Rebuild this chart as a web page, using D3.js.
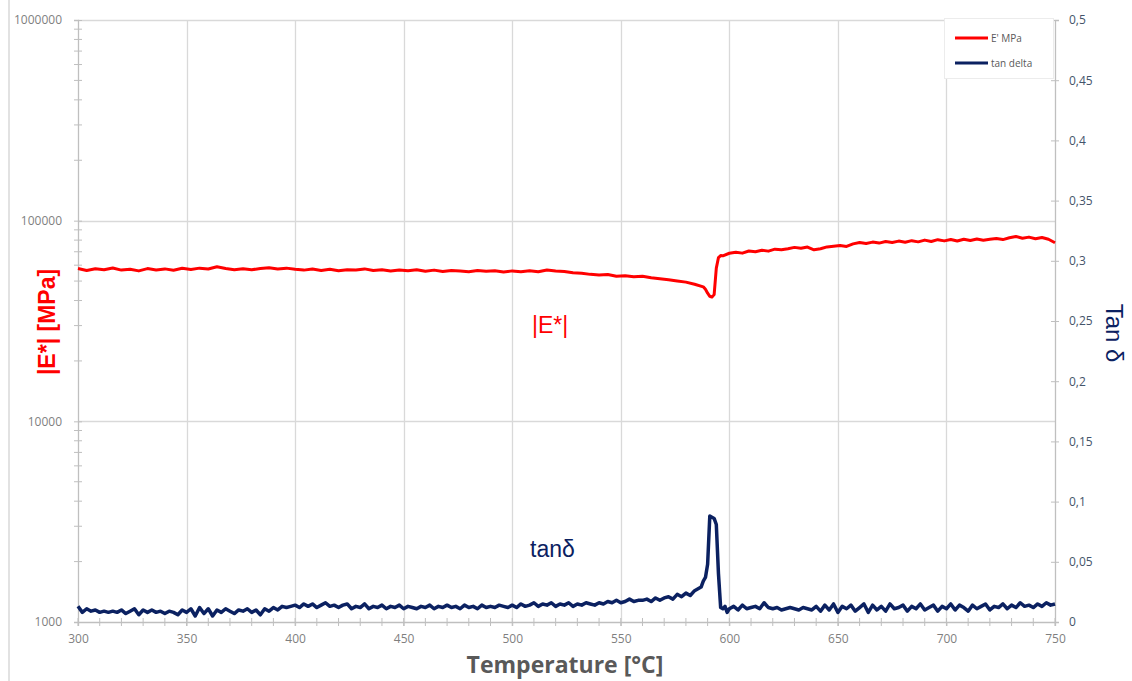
<!DOCTYPE html>
<html><head><meta charset="utf-8">
<script src="https://cdn.jsdelivr.net/npm/d3@7"></script>
<style>body{margin:0;background:#fff}svg{display:block}</style>
</head><body>
<script>
// ---- data ----
const xTicks = [300,350,400,450,500,550,600,650,700,750];
const yLeftTicks = [1000,10000,100000,1000000];
const yRightTicks = [0,0.05,0.1,0.15,0.2,0.25,0.3,0.35,0.4,0.45,0.5];
const yRightLabels = ["0","0,05","0,1","0,15","0,2","0,25","0,3","0,35","0,4","0,45","0,5"];

const tempE = [300,304,308,312,316,320,324,328,332,336,340,344,348,
352,356,360,364,368,372,376,380,384,388,392,396,400,
404,408,412,416,420,424,428,432,436,440,444,448,452,
456,460,464,468,472,476,480,484,488,492,496,500,504,
508,512,516,520,524,528,532,536,540,544,548,552,556,
560,564,568,572,576,580,584,588,
589,590,591,592,593,594,595,596,597,
600,603,606,609,612,615,618,621,624,627,
630,633,636,639,642,645,648,651,654,657,
660,663,666,669,672,675,678,681,684,687,
690,693,696,699,702,705,708,711,714,717,
720,723,726,729,732,735,738,741,744,747,750];
const modulusE = [57800,56400,57600,56900,58100,56700,57300,56200,57700,56800,57500,56600,57900,
57100,58000,57400,58900,57800,57000,57600,56900,57800,58300,57400,58000,57200,
56700,57400,56500,57200,56300,57000,56800,57500,56400,56900,56100,56800,56300,
56900,56000,56700,55800,56500,56100,55700,56400,55900,56300,55500,56200,55700,
56300,55600,56800,56200,55800,55000,54700,54000,53600,53900,52800,53200,52500,
52900,51900,51300,50800,50100,49400,48200,46800,
45500,43500,42000,41600,42800,58000,65500,67000,66800,
68800,69600,68900,70600,70000,71200,70500,72100,71600,72500,
73600,72800,73900,71600,72400,74000,74600,75200,74400,76600,
77800,76900,78200,77300,78700,77800,79100,78000,79500,78400,
80000,78700,80400,79300,80600,79200,80800,79600,81000,79900,
80800,81400,80500,82200,83400,81800,82800,81300,82500,80800,77600];

const tempTan = [300,302,304,306,308,310,312,314,316,318,320,322,324,326,328,330,332,334,336,338,
340,342,344,346,348,350,352,354,356,358,360,362,364,366,368,370,372,374,376,378,
380,382,384,386,388,390,392,394,396,398,400,402,404,406,408,410,412,414,416,418,
420,422,424,426,428,430,432,434,436,438,440,442,444,446,448,450,452,454,456,458,
460,462,464,466,468,470,472,474,476,478,480,482,484,486,488,490,492,494,496,498,
500,502,504,506,508,510,512,514,516,518,520,522,524,526,528,530,532,534,536,538,
540,542,544,546,548,550,552,554,556,558,560,562,564,566,568,570,572,574,576,578,
580,582,584,586,587,588,589,590,591,592,593,594,595,596,597,598,599,
600,602,604,606,608,610,612,614,616,618,620,622,624,626,628,630,632,634,636,638,
640,642,644,646,648,650,652,654,656,658,660,662,664,666,668,670,672,674,676,678,
680,682,684,686,688,690,692,694,696,698,700,702,704,706,708,710,712,714,716,718,
720,722,724,726,728,730,732,734,736,738,740,742,744,746,748,750];
const tanDelta = [0.013,0.008,0.011,0.009,0.010,0.008,0.009,0.008,0.009,0.008,
0.010,0.007,0.009,0.011,0.006,0.010,0.008,0.010,0.008,0.009,
0.007,0.009,0.008,0.006,0.010,0.008,0.011,0.005,0.012,0.007,
0.011,0.005,0.010,0.008,0.011,0.009,0.007,0.010,0.009,0.011,
0.008,0.010,0.006,0.011,0.009,0.012,0.010,0.013,0.012,0.013,
0.014,0.012,0.015,0.013,0.015,0.012,0.014,0.016,0.013,0.014,
0.012,0.014,0.015,0.011,0.013,0.012,0.015,0.011,0.013,0.012,
0.014,0.011,0.013,0.012,0.014,0.011,0.013,0.012,0.011,0.013,
0.012,0.014,0.011,0.013,0.012,0.014,0.012,0.013,0.011,0.014,
0.012,0.013,0.011,0.014,0.012,0.013,0.012,0.014,0.013,0.012,
0.014,0.012,0.015,0.013,0.014,0.016,0.013,0.015,0.014,0.016,
0.013,0.015,0.014,0.016,0.013,0.015,0.014,0.016,0.015,0.014,
0.016,0.015,0.017,0.016,0.018,0.016,0.017,0.019,0.017,0.018,
0.018,0.019,0.017,0.020,0.018,0.020,0.021,0.019,0.023,0.021,
0.024,0.022,0.026,0.028,0.029,0.034,0.037,0.048,0.088,0.087,0.086,0.081,0.040,0.012,0.011,0.013,0.008,
0.011,0.013,0.010,0.014,0.011,0.012,0.013,0.011,0.016,0.012,
0.011,0.012,0.010,0.011,0.012,0.011,0.010,0.012,0.011,0.010,
0.013,0.009,0.014,0.010,0.015,0.008,0.013,0.011,0.014,0.009,
0.012,0.015,0.008,0.014,0.010,0.013,0.009,0.015,0.011,0.012,
0.014,0.009,0.013,0.011,0.015,0.010,0.012,0.014,0.009,0.013,
0.011,0.015,0.010,0.014,0.012,0.009,0.014,0.011,0.013,0.015,
0.010,0.013,0.012,0.015,0.011,0.014,0.012,0.016,0.013,0.014,
0.012,0.015,0.013,0.016,0.014,0.015];

// ---- layout ----
const W = 1132, H = 681;
const mLeft = 78, mRight = 1055, mTop = 20, mBottom = 622;
const red = "#ff0000", navy = "#0b2161", grid = "#d9d9d9", axisC = "#bfbfbf", tickTxt = "#7f7f7f";

const svg = d3.select("body").append("svg").attr("width", W).attr("height", H);

const x = d3.scaleLinear().domain([300,750]).range([mLeft,mRight]);
const yL = d3.scaleLog().domain([1000,1000000]).range([mBottom,mTop]);
const yR = d3.scaleLinear().domain([0,0.5]).range([mBottom,mTop]);

// frame line
svg.append("line").attr("x1",9).attr("x2",9).attr("y1",0).attr("y2",H).attr("stroke",grid).attr("stroke-width",1.5);

// gridlines
const g = svg.append("g");
g.selectAll(".vg").data(xTicks.filter(d=>d>300 && d<750)).enter().append("line")
  .attr("x1",d=>Math.round(x(d))+0.5).attr("x2",d=>Math.round(x(d))+0.5)
  .attr("y1",mTop).attr("y2",mBottom).attr("stroke",grid).attr("stroke-width",1.3);
g.selectAll(".hg").data(yLeftTicks.filter(d=>d>1000)).enter().append("line")
  .attr("x1",mLeft).attr("x2",mRight)
  .attr("y1",d=>Math.round(yL(d))+0.5).attr("y2",d=>Math.round(yL(d))+0.5)
  .attr("stroke",grid).attr("stroke-width",1.3);

function styleAxis(sel){
  sel.select(".domain").attr("stroke",axisC).attr("stroke-width",1.3);
  sel.selectAll(".tick line").attr("stroke",axisC);
}
// x axis minor ticks (every 10) crossing
const xMinor = d3.range(300,751,10);
svg.append("g").selectAll("line").data(xMinor).enter().append("line")
  .attr("x1",d=>x(d)).attr("x2",d=>x(d)).attr("y1",mBottom-4).attr("y2",mBottom+4).attr("stroke",axisC);
const xAxisG = svg.append("g").attr("transform",`translate(0,${mBottom})`)
  .call(d3.axisBottom(x).tickValues(xTicks).tickSize(4).tickPadding(8).tickFormat(d3.format("d")));
styleAxis(xAxisG);
xAxisG.selectAll("text").attr("fill",tickTxt).style("font-family","'Open Sans'").style("font-size","12px");

// left axis
const minorL = [];
[1000,10000,100000].forEach(b=>{ for(let k=2;k<=9;k++) minorL.push(b*k); });
svg.append("g").selectAll("line").data(minorL).enter().append("line")
  .attr("x1",mLeft-4).attr("x2",mLeft+4).attr("y1",d=>yL(d)).attr("y2",d=>yL(d)).attr("stroke",axisC);
const yLG = svg.append("g").attr("transform",`translate(${mLeft},0)`)
  .call(d3.axisLeft(yL).tickValues(yLeftTicks).tickSize(4).tickPadding(12).tickFormat(d3.format("d")));
styleAxis(yLG);
yLG.selectAll(".tick line").attr("x2",4).attr("x1",-4);
yLG.selectAll("text").attr("fill",tickTxt).style("font-family","'Open Sans'").style("font-size","12px");

// right axis
const yRG = svg.append("g").attr("transform",`translate(${mRight},0)`)
  .call(d3.axisRight(yR).tickValues(yRightTicks).tickSize(4).tickPadding(10).tickFormat((d,i)=>yRightLabels[i]));
styleAxis(yRG);
yRG.selectAll(".tick line").attr("x1",-4).attr("x2",4);
yRG.selectAll("text").attr("fill","#44546a").style("font-family","'Open Sans'").style("font-size","12px");

// lines
const lineE = d3.line().x((d,i)=>x(tempE[i])).y(d=>yL(d));
svg.append("path").datum(modulusE).attr("d",lineE).attr("fill","none")
  .attr("stroke",red).attr("stroke-width",3).attr("stroke-linejoin","round");
const lineT = d3.line().x((d,i)=>x(tempTan[i])).y(d=>yR(d));
svg.append("path").datum(tanDelta).attr("d",lineT).attr("fill","none")
  .attr("stroke",navy).attr("stroke-width",3.5).attr("stroke-linejoin","round");

// legend
const lg = svg.append("g");
lg.append("rect").attr("x",944.5).attr("y",18.5).attr("width",109).attr("height",60)
  .attr("fill","#fff").attr("stroke","#ececec");
[[red,"E' MPa",38],[navy,"tan delta",63]].forEach(([c,t,yy])=>{
  lg.append("line").attr("x1",955).attr("x2",988).attr("y1",yy).attr("y2",yy).attr("stroke",c).attr("stroke-width",3);
  lg.append("text").attr("x",991).attr("y",yy+4).text(t).attr("fill","#595959")
    .style("font-family","'Open Sans'").style("font-size","10px");
});

// annotations
svg.append("text").attr("x",532).attr("y",333).text("|E*|").attr("fill",red)
  .style("font-family","'Liberation Sans'").style("font-size","23px");
svg.append("text").attr("x",530).attr("y",557).text("tanδ").attr("fill",navy)
  .style("font-family","'Liberation Sans'").style("font-size","23px");

// axis titles
svg.append("text").attr("transform","translate(55,322) rotate(-90)").attr("text-anchor","middle")
  .text("|E*| [MPa]").attr("fill",red).style("font-family","'Liberation Sans'")
  .style("font-weight","bold").style("font-size","23px");
svg.append("text").attr("transform","translate(1106,333) rotate(90)").attr("text-anchor","middle")
  .text("Tan δ").attr("fill",navy).style("font-family","'Liberation Sans'").style("font-size","24px");
svg.append("text").attr("x",565).attr("y",673).attr("text-anchor","middle")
  .text("Temperature [°C]").attr("fill","#595959").style("font-family","'Open Sans'")
  .style("font-weight","bold").style("font-size","23px");
</script>
</body></html>
